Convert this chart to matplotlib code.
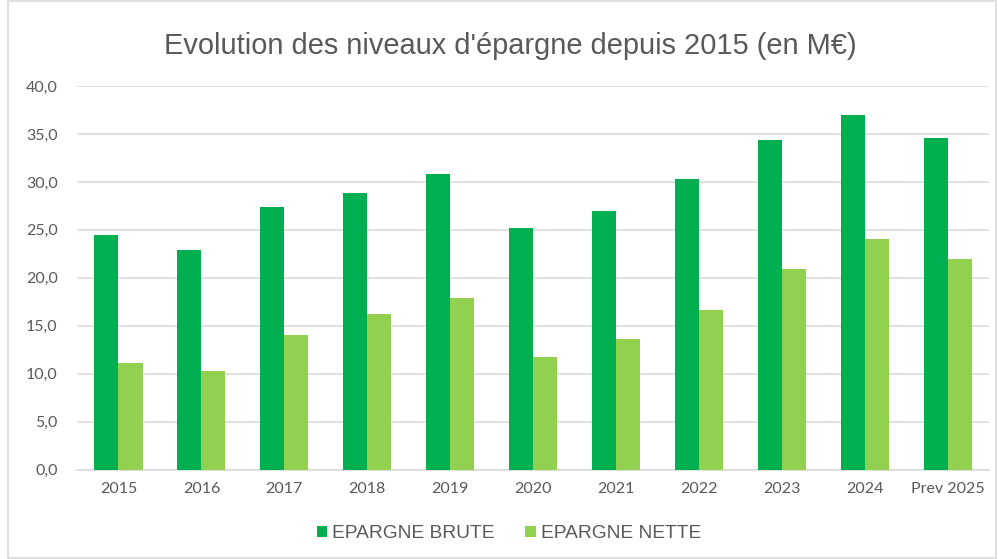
import matplotlib
matplotlib.use("Agg")
import matplotlib.pyplot as plt
import numpy as np
from matplotlib.patches import Rectangle

categories = ["2015", "2016", "2017", "2018", "2019", "2020", "2021", "2022", "2023", "2024", "Prev 2025"]
epargne_brute = [24.5, 22.9, 27.4, 28.8, 30.8, 25.2, 27.0, 30.3, 34.4, 37.0, 34.6]
epargne_nette = [11.1, 10.3, 14.0, 16.2, 17.9, 11.8, 13.6, 16.6, 20.9, 24.0, 22.0]
series_names = ["EPARGNE BRUTE", "EPARGNE NETTE"]
yticks = [0, 5, 10, 15, 20, 25, 30, 35, 40]

fig = plt.figure(figsize=(9.98, 5.59), dpi=100)
ax = fig.add_axes([0.0772, 0.1597, 0.9138, 0.6865])

x = np.arange(len(categories))
w = 0.29
c1, c2 = "#00B050", "#92D050"
ax.bar(x - w/2, epargne_brute, w, color=c1, label=series_names[0], zorder=3)
ax.bar(x + w/2, epargne_nette, w, color=c2, label=series_names[1], zorder=3)

ax.set_xlim(-0.5, len(categories) - 0.5)
ax.set_ylim(0, 40)
ax.set_yticks(yticks)
ax.set_yticklabels([f"{v:.1f}".replace(".", ",") for v in yticks])
ax.set_xticks(x)
ax.set_xticklabels(categories)
ax.grid(axis="y", color="#D9D9D9", linewidth=1.1, zorder=0)
for s in ["top", "right", "left"]:
    ax.spines[s].set_visible(False)
ax.spines["bottom"].set_color("#D9D9D9")
ax.spines["bottom"].set_linewidth(1.1)
ax.tick_params(axis="both", length=0, colors="#595959", labelsize=11.5)
ax.tick_params(axis="y", pad=14)
ax.tick_params(axis="x", pad=9)
for lbl in ax.get_xticklabels() + ax.get_yticklabels():
    lbl.set_fontfamily(["Lato", "DejaVu Sans"])

fig.text(0.511, 0.918, "Evolution des niveaux d'épargne depuis 2015 (en M€)",
         ha="center", va="center", fontsize=20.9, color="#595959",
         family=["Liberation Sans", "DejaVu Sans"])

leg = fig.legend(loc="center", bbox_to_anchor=(0.51, 0.045), ncol=2, frameon=False,
                 handlelength=0.55, handleheight=0.55, handletextpad=0.25, columnspacing=1.6,
                 prop={"family": ["Liberation Sans Narrow", "Liberation Sans"], "size": 13.8})
for t in leg.get_texts():
    t.set_color("#595959")

fig.patches.append(Rectangle((0.008, 0.002), 0.99, 0.996, transform=fig.transFigure,
                             fill=False, edgecolor="#D9D9D9", linewidth=1.2))

fig.savefig("out.png", dpi=100)
